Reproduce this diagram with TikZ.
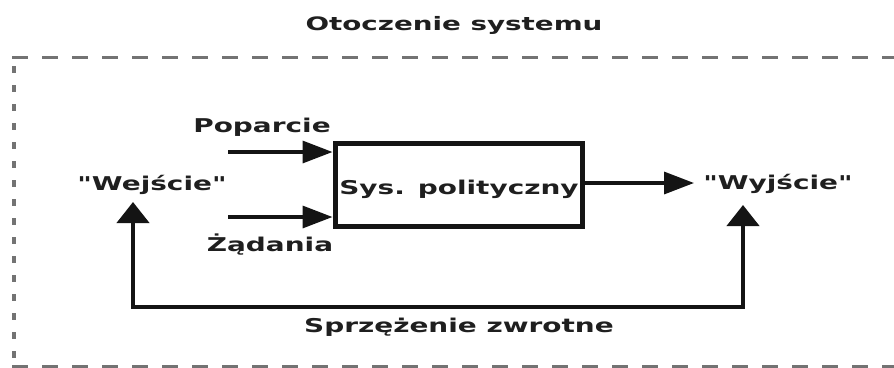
\documentclass[tikz,border=0pt]{standalone}
\usepackage{fontspec}
\newfontfamily\lblfont{DejaVu Sans}[FakeStretch=1.47]
\newfontfamily\ttlfont{DejaVu Sans}[FakeStretch=1.5]
\usetikzlibrary{arrows.meta}
\begin{document}
\begin{tikzpicture}[x=1pt,y=-1pt,
  lbl/.style={font=\lblfont\bfseries\fontsize{19}{21}\selectfont, text=black!88, inner sep=0pt},
  ttl/.style={lbl, font=\ttlfont\bfseries\fontsize{18.5}{20}\selectfont},
  hdash/.style={draw=black!55, line width=3pt, dash pattern=on 16pt off 14pt},
  vdash/.style={draw=black!55, line width=4pt, dash pattern=on 7pt off 12pt},
  sysbox/.style={draw=black!92, line width=5pt, minimum width=247pt, minimum height=83pt, inner sep=0pt},
  harrow/.style={draw=black!92, line width=3.4pt, -{Triangle[length=30pt,width=22pt]}},
  fbarrow/.style={draw=black!92, line width=4.2pt, {Triangle[length=21pt,width=32pt]}-{Triangle[length=21pt,width=32pt]}}
]
\useasboundingbox (0,0) rectangle (894,367);
\fill[white] (0,0) rectangle (894,367);

% surrounding environment (dashed frame)
\node[ttl] (env) at (454,25) {Otoczenie systemu};
\draw[hdash] (12,57) -- (900,57);
\draw[hdash] (12,366) -- (900,366);
\draw[vdash] (14,66) -- (14,366);

% political system
\node[sysbox] (sys) at (458.5,184.5) {};
\node[lbl] (systxt) at (459,189) {Sys. polityczny};

% inputs
\node[lbl] (pop) at (262,127) {Poparcie};
\node[lbl] (zad) at (270,245) {Żądania};
\node[lbl] (wej) at (152,185) {"Wejście"};
\coordinate (pin) at (228,152);
\coordinate (zin) at (228,217);
\draw[harrow] (pin) -- (pin -| sys.west);
\draw[harrow] (zin) -- (zin -| sys.west);

% output
\node[lbl] (wyj) at (778,184) {"Wyjście"};
\coordinate (outtip) at (694,183);
\draw[harrow] (sys.east |- outtip) -- (outtip);

% feedback loop
\coordinate (fbR) at (743,205);
\coordinate (fbL) at (133,202);
\coordinate (fbB) at (743,307);
\draw[fbarrow] (fbR) -- (fbB) -| (fbL);
\node[lbl] (fb) at (459,327) {Sprzężenie zwrotne};
\end{tikzpicture}
\end{document}
